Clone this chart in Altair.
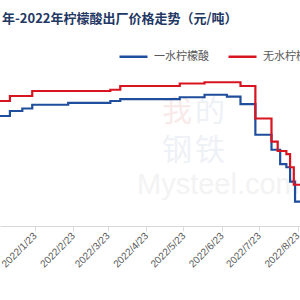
import altair as alt
import pandas as pd

# Series data (step changes)
red_dates = ["2021/12/26", "2022/01/03", "2022/01/21", "2022/03/25", "2022/04/02",
             "2022/05/20", "2022/06/09", "2022/07/08", "2022/07/20", "2022/08/02",
             "2022/08/07", "2022/08/14", "2022/08/17", "2022/08/20", "2022/08/25"]
red_values = [9000, 9200, 9400, 9450, 9600, 9700, 9750, 9600, 8300, 7375,
              7000, 6875, 6350, 5650, 5650]

blue_dates = ["2021/12/26", "2022/01/03", "2022/01/13", "2022/01/21", "2022/02/19",
              "2022/03/25", "2022/04/02", "2022/05/20", "2022/06/09", "2022/06/27",
              "2022/07/08", "2022/07/20", "2022/08/02", "2022/08/09", "2022/08/14",
              "2022/08/17", "2022/08/21", "2022/08/25"]
blue_values = [8400, 8600, 8700, 8850, 8925, 9000, 9075, 9150, 9250, 9175,
               8875, 7650, 7050, 6475, 6350, 5775, 4975, 4975]

series_names = ["一水柠檬酸", "无水柠檬酸"]
series_colors = ["#1f4e9c", "#d7141f"]
tick_months = [1, 2, 3, 4, 5, 6, 7, 8]
title_text = "年-2022年柠檬酸出厂价格走势（元/吨）"

df = pd.concat([
    pd.DataFrame({"date": blue_dates, "price": blue_values, "series": series_names[0]}),
    pd.DataFrame({"date": red_dates, "price": red_values, "series": series_names[1]}),
])

xscale = alt.Scale(domain=[alt.DateTime(year=2021, month=12, date=26),
                           alt.DateTime(year=2022, month=8, date=25)], padding=0)

lines = alt.Chart(df).mark_line(interpolate="step-after", strokeWidth=2.2).encode(
    x=alt.X("date:T", scale=xscale, title=None,
            axis=alt.Axis(values=[alt.DateTime(year=2022, month=m, date=23) for m in tick_months],
                          format="%Y/%-m/%d", labelAngle=-45, labelAlign="right",
                          labelBaseline="middle", labelFontSize=10, labelColor="#595959",
                          labelFont="Liberation Sans", labelPadding=3,
                          domainColor="#d9d9d9", tickColor="#d9d9d9", tickSize=5,
                          grid=False, labelOverlap=False)),
    y=alt.Y("price:Q", scale=alt.Scale(domain=[4000, 12000]), axis=None),
    color=alt.Color("series:N",
                    scale=alt.Scale(domain=series_names, range=series_colors),
                    legend=alt.Legend(title=None, orient="none", legendX=118, legendY=15,
                                      direction="horizontal", symbolType="stroke",
                                      symbolSize=784, symbolStrokeWidth=2.5,
                                      labelFontSize=11, labelColor="#595959",
                                      labelFont="Noto Sans CJK SC", labelOffset=5,
                                      columnPadding=14, padding=0)),
)

one = pd.DataFrame({"t": [0]})

title = alt.Chart(one).mark_text(align="left", baseline="middle", fontSize=13,
                                 fontWeight="bold", color="#1f3864",
                                 font="Noto Sans CJK SC").encode(
    x=alt.value(2), y=alt.value(-7), text=alt.value(title_text))

def wm(ch, x, y, color):
    return alt.Chart(one).mark_text(fontSize=30, color=color, font="Noto Sans CJK SC",
                                    baseline="middle").encode(
        x=alt.value(x), y=alt.value(y), text=alt.value(ch))

wm1 = wm("我", 177, 86, "#f9eaea")
wm2 = wm("的", 210, 86, "#eef1f6")
wm3 = wm("钢", 177, 125, "#eef1f6")
wm4 = wm("铁", 210, 125, "#eef1f6")
wm5 = alt.Chart(one).mark_text(fontSize=29, color="#f3f3f3", font="Liberation Sans",
                               align="left", baseline="alphabetic").encode(
    x=alt.value(137), y=alt.value(168), text=alt.value("Mysteel.com"))

chart = alt.layer(wm1, wm2, wm3, wm4, wm5, lines, title).properties(
    width=300, height=200,
    autosize=alt.AutoSizeParams(type="none"),
    padding={"top": 26, "left": 0, "right": 0, "bottom": 74},
    background="white",
).configure_view(stroke=None)

chart.save("out.html", embed_options={"renderer": "svg", "actions": False})
